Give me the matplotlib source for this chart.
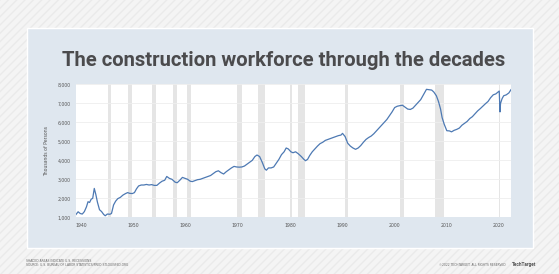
import matplotlib
matplotlib.use("Agg")
import matplotlib.pyplot as plt
from matplotlib.patches import Rectangle

# construction employees, thousands of persons
years = [
    1939.0, 1939.4, 1939.8, 1940.2, 1940.6, 1941.0, 1941.3, 1941.6, 1941.9, 1942.2,
    1942.5, 1942.8, 1943.1, 1943.5, 1943.9, 1944.3, 1944.6, 1945.0, 1945.5, 1945.8,
    1946.2, 1946.6, 1947.0, 1947.5, 1948.0, 1948.5, 1948.9, 1949.3, 1949.8, 1950.2,
    1950.6, 1951.0, 1951.5, 1952.0, 1952.5, 1953.0, 1953.5, 1954.0, 1954.5, 1955.0,
    1955.5, 1956.0, 1956.4, 1956.9, 1957.4, 1958.0, 1958.4, 1958.9, 1959.4, 1959.9,
    1960.4, 1960.9, 1961.3, 1961.8, 1962.3, 1962.8, 1963.3, 1963.8, 1964.3, 1964.8,
    1965.3, 1965.8, 1966.3, 1966.8, 1967.3, 1967.8, 1968.3, 1968.8, 1969.3, 1969.8,
    1970.3, 1970.8, 1971.3, 1971.8, 1972.3, 1972.8, 1973.3, 1973.7, 1974.2, 1974.7,
    1975.2, 1975.5, 1975.9, 1976.4, 1976.9, 1977.4, 1977.9, 1978.4, 1978.9, 1979.3,
    1979.7, 1980.2, 1980.6, 1981.1, 1981.6, 1982.2, 1982.7, 1983.0, 1983.4, 1983.8,
    1984.3, 1984.8, 1985.3, 1985.8, 1986.3, 1986.8, 1987.3, 1987.8, 1988.3, 1988.8,
    1989.3, 1989.8, 1990.1, 1990.6, 1991.1, 1991.6, 1992.1, 1992.6, 1993.1, 1993.6,
    1994.1, 1994.6, 1995.1, 1995.6, 1996.1, 1996.6, 1997.1, 1997.6, 1998.1, 1998.6,
    1999.1, 1999.6, 2000.1, 2000.6, 2001.1, 2001.6, 2002.1, 2002.6, 2003.1, 2003.6,
    2004.1, 2004.6, 2005.1, 2005.6, 2006.2, 2006.7, 2007.2, 2007.6, 2008.1, 2008.5,
    2008.9, 2009.2, 2009.6, 2010.1, 2010.6, 2011.0, 2011.5, 2012.0, 2012.5, 2013.0,
    2013.5, 2014.0, 2014.5, 2015.0, 2015.5, 2016.0, 2016.5, 2017.0, 2017.5, 2018.0,
    2018.5, 2019.0, 2019.5, 2020.0, 2020.15, 2020.3, 2020.4, 2020.7, 2021.0, 2021.5,
    2022.0, 2022.4,
]
workers = [
    1150, 1290, 1200, 1170, 1300, 1550, 1820, 1780, 1950, 2000,
    2520, 2200, 1800, 1400, 1300, 1150, 1080, 1170, 1160, 1200,
    1650, 1850, 1980, 2050, 2170, 2250, 2300, 2260, 2250, 2300,
    2500, 2650, 2700, 2700, 2730, 2700, 2720, 2680, 2680, 2800,
    2900, 2950, 3150, 3050, 3000, 2850, 2820, 2950, 3100, 3050,
    3000, 2900, 2880, 2930, 2980, 3000, 3050, 3100, 3150, 3200,
    3300, 3400, 3450, 3350, 3280, 3400, 3500, 3600, 3680, 3650,
    3640, 3650, 3700, 3800, 3900, 4000, 4200, 4280, 4200, 3900,
    3550, 3480, 3600, 3600, 3650, 3850, 4050, 4300, 4450, 4650,
    4600, 4450, 4400, 4450, 4350, 4200, 4050, 3980, 4050, 4250,
    4450, 4600, 4750, 4880, 4950, 5050, 5100, 5150, 5200, 5250,
    5300, 5330, 5420, 5250, 4900, 4750, 4650, 4580, 4650, 4780,
    4950, 5100, 5200, 5280, 5400, 5550, 5700, 5850, 6000, 6150,
    6350, 6550, 6780, 6850, 6880, 6900, 6800, 6700, 6680, 6750,
    6900, 7050, 7200, 7450, 7740, 7720, 7700, 7600, 7400, 7100,
    6700, 6250, 5900, 5560, 5550, 5500, 5580, 5630, 5700, 5850,
    5950, 6050, 6200, 6300, 6450, 6600, 6720, 6850, 6980, 7100,
    7300, 7450, 7500, 7620, 7650, 6550, 7000, 7250, 7400, 7450,
    7550, 7720,
]

# US recessions (start, end)
recession_start = [1945.1, 1948.9, 1953.5, 1957.6, 1960.3, 1969.9, 1973.9,
                   1980.0, 1981.5, 1990.5, 2001.2, 2007.9, 2020.1]
recession_end = [1945.8, 1949.8, 1954.4, 1958.3, 1961.1, 1970.9, 1975.2,
                 1980.5, 1982.9, 1991.2, 2001.9, 2009.5, 2020.3]

xticks = [1940, 1950, 1960, 1970, 1980, 1990, 2000, 2010, 2020]
yticks = [1000, 2000, 3000, 4000, 5000, 6000, 7000, 8000]

fig = plt.figure(figsize=(5.59, 2.74), dpi=100)
fig.patch.set_facecolor("#f4f4f4")

# faint diagonal stripes on the page
fig.patches.append(Rectangle((0, 0), 1, 1, transform=fig.transFigure,
                             facecolor="none", edgecolor="#eaeaea",
                             hatch="////", linewidth=0, zorder=0))
# light blue card
fig.patches.append(Rectangle((0.048, 0.095), 0.906, 0.803, transform=fig.transFigure,
                             facecolor="#dfe7ef", edgecolor="white",
                             linewidth=1.0, zorder=1))

fig.text(0.507, 0.78, "The construction workforce through the decades",
         ha="center", va="center", fontsize=14.6, fontweight="bold",
         family=["Roboto", "DejaVu Sans"], color="#4b4b4d")

ax = fig.add_axes([0.136, 0.207, 0.779, 0.485])
ax.set_facecolor("white")
ax.set_zorder(2)

for s, e in zip(recession_start, recession_end):
    ax.axvspan(s, e, color="#e5e5e5", linewidth=0, zorder=1)

ax.plot(years, workers, color="#4d79b3", linewidth=0.9, zorder=3)

ax.set_xlim(1939.0, 2022.5)
ax.set_ylim(1000, 8000)
ax.set_xticks(xticks)
ax.set_yticks(yticks)
ax.set_yticklabels(["{:,}".format(v) for v in yticks])
ax.grid(axis="y", color="#eeeeee", linewidth=0.6, zorder=0)
ax.tick_params(length=0, labelsize=3.3, labelcolor="#555555")
ax.tick_params(axis="x", pad=4)
ax.tick_params(axis="y", pad=4)
for sp in ax.spines.values():
    sp.set_visible(False)
ax.set_ylabel("Thousands of Persons", fontsize=3.3, color="#555555", labelpad=6)

# footer
fig.text(0.047, 1 - 260.7 / 274, "SHADED AREAS INDICATE U.S. RECESSIONS",
         fontsize=2.2, color="#666666", va="center")
fig.text(0.047, 1 - 264.5 / 274,
         "SOURCE: U.S. BUREAU OF LABOR STATISTICS/FRED.STLOUISFED.ORG",
         fontsize=2.2, color="#666666", va="center")
fig.text(0.905, 1 - 264.5 / 274, "\u00a92022 TECHTARGET. ALL RIGHTS RESERVED",
         fontsize=2.2, color="#666666", va="center", ha="right")
fig.text(0.916, 1 - 264.5 / 274, "TechTarget", fontsize=3.4, fontweight="bold",
         color="#555555", va="center", ha="left",
         family=["Roboto", "DejaVu Sans"])

fig.savefig("out.png", dpi=100, facecolor=fig.get_facecolor())
